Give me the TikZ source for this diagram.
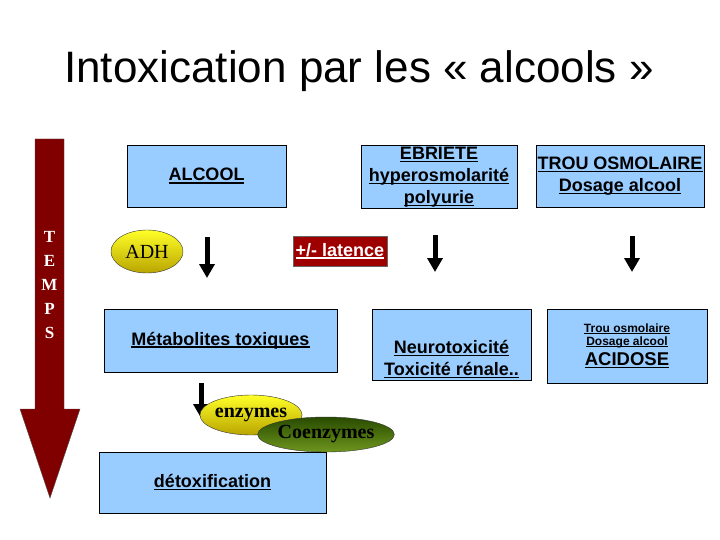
\documentclass[tikz,border=0pt]{standalone}
\usepackage{fontspec}
\setmainfont{Liberation Serif}
\newfontfamily\arialfont{Liberation Sans}
\usetikzlibrary{arrows.meta,shapes.geometric}

\definecolor{bleubox}{RGB}{153,204,255}
\definecolor{tempsrouge}{RGB}{128,0,0}
\definecolor{latrouge}{RGB}{158,0,0}
\definecolor{jauneh}{RGB}{255,255,40}
\definecolor{jauneb}{RGB}{185,165,0}
\definecolor{verth}{RGB}{40,75,0}
\definecolor{vertb}{RGB}{110,150,30}

% underline a bit thicker than \underline
\newcommand{\ul}[1]{\setbox0=\hbox{#1}\rlap{\raisebox{-.15em}{\rule{\wd0}{.08em}}}\box0}
\newcommand{\boxfont}{\arialfont\bfseries\fontsize{18}{22}\selectfont}
\newcommand{\petit}{\fontsize{12}{13}\selectfont}

\tikzset{
  bluebox/.style={draw=black,line width=0.9pt,fill=bleubox,align=center,
    inner sep=1pt,font=\boxfont},
  redbox/.style={draw=black!60,fill=latrouge,text=white,align=center,
    inner sep=1pt,font=\boxfont},
  jauneell/.style={ellipse,draw=black!80,top color=jauneh,bottom color=jauneb,
    inner sep=0pt},
  vertell/.style={ellipse,draw=black!80,top color=verth,bottom color=vertb,
    inner sep=0pt},
  downarr/.style={line width=5pt,-{Triangle[width=15pt,length=14pt]}},
  tempslettre/.style={text=white,font=\bfseries\fontsize{17}{17}\selectfont}
}

\begin{document}
\begin{tikzpicture}[x=1pt,y=-1pt]
\useasboundingbox (0,0) rectangle (720,540);
% ================= title =================
\node (titre) at (359,71) {\arialfont\fontsize{44}{50}\selectfont Intoxication par les « alcools »};
% ================= time arrow =================
\fill[tempsrouge,draw=black!70] (35,139) -- (64,139) -- (64,409) -- (80,409)
  -- (50,498) -- (20,409) -- (35,409) -- cycle;
\foreach \l [count=\i] in {T,E,M,P,S}
  \node[tempslettre] (temps\i) at (49.5,{213+24*\i}) {\l};
% ================= top row =================
\node[bluebox,minimum width=159,minimum height=62] (alcool) at (206.5,176) {\ul{ALCOOL}};
\node[bluebox,minimum width=156,minimum height=62] (ebriete) at (439,177)
  {\ul{EBRIETE}\\\ul{hyperosmolarité}\\\ul{polyurie}};
\node[bluebox,minimum width=168,minimum height=62] (trou) at (620,176)
  {\ul{TROU OSMOLAIRE}\\\ul{Dosage alcool}};
% ================= second row =================
\node[jauneell,minimum width=72,minimum height=43] (adh) at (147,251.5)
  {\fontsize{20}{20}\selectfont ADH};
\node[redbox,minimum width=94,minimum height=30] (latence) at (340,251) {\ul{+/- latence}};
% down arrows
\coordinate (f1h) at (207,237); \coordinate (f1b) at (207,278);
\coordinate (f2h) at (435,235); \coordinate (f2b) at (435,272);
\coordinate (f3h) at (632,236); \coordinate (f3b) at (632,272);
\draw[downarr] (f1h) -- (f1b);
\draw[downarr] (f2h) -- (f2b);
\draw[downarr] (f3h) -- (f3b);
% ================= third row =================
\node[bluebox,minimum width=233,minimum height=63] (metab) at (220.5,340.5)
  {\ul{Métabolites toxiques}};
\node[bluebox,minimum width=159,minimum height=71] (neuro) at (451.5,344.5)
  {\mbox{}\\[21pt]\ul{Neurotoxicité}\\\ul{Toxicité rénale..}};
\node[bluebox,minimum width=160,minimum height=74] (acidose) at (627,346)
  {\petit\ul{Trou osmolaire}\\[-9pt]\petit\ul{Dosage alcool}\\[-2pt]
   \fontsize{18.5}{20}\selectfont\ul{ACIDOSE}};
% ================= detoxification =================
\coordinate (f4h) at (201,383); \coordinate (f4b) at (201,418);
\draw[downarr] (f4h) -- (f4b);
\node[jauneell,minimum width=78,minimum height=40] (enzymes) at (251,415)
  {\bfseries\fontsize{20}{20}\selectfont enzymes};
\node[vertell,minimum width=102,minimum height=35] (coenzymes) at (326,434.5)
  {\bfseries\fontsize{20}{20}\selectfont Coenzymes};
\node[bluebox,minimum width=227,minimum height=61] (detox) at (212.5,482.5)
  {\ul{détoxification}};
\end{tikzpicture}
\end{document}
